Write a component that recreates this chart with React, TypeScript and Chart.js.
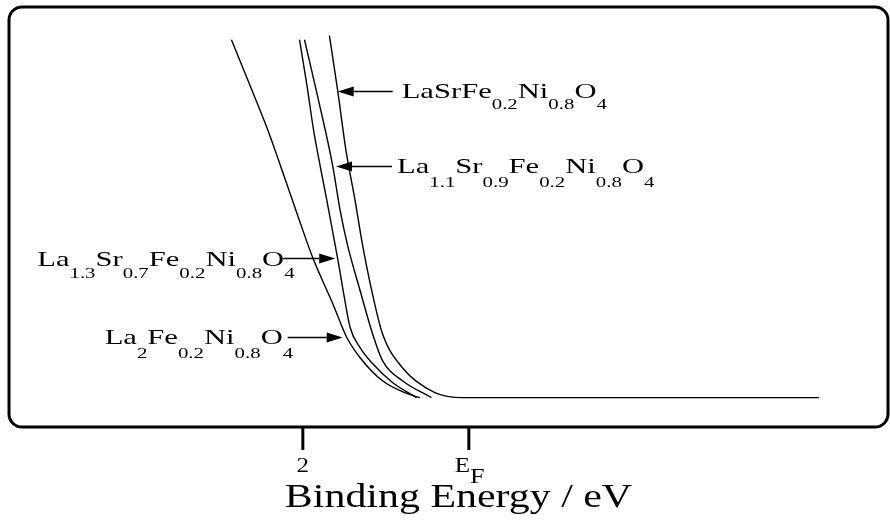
import { useEffect, useRef } from 'react';
import { Chart, registerables } from 'chart.js';

Chart.register(...registerables);

// ---- data (binding energy in eV relative to E_F, intensity in arbitrary units) ----
const NAME_LA2 = 'La_{2}Fe_{0.2}Ni_{0.8}O_{4}';
const NAME_LA13 = 'La_{1.3}Sr_{0.7}Fe_{0.2}Ni_{0.8}O_{4}';
const NAME_LA11 = 'La_{1.1}Sr_{0.9}Fe_{0.2}Ni_{0.8}O_{4}';
const NAME_LASR = 'LaSrFe_{0.2}Ni_{0.8}O_{4}';

const BE_LA2 = [2.86, 2.64, 2.42, 2.22, 2.04, 1.88, 1.64, 1.47, 1.31, 1.04, 0.75, 0.59];
const I_LA2 = [8.52, 7.45, 6.36, 5.24, 4.21, 3.33, 2.24, 1.43, 0.95, 0.4, 0.1, 0];

const BE_LA13 = [2.04, 1.95, 1.87, 1.78, 1.71, 1.58, 1.51, 1.43, 1.31, 1.16, 0.92, 0.63];
const I_LA13 = [8.52, 7.43, 6.36, 5.4, 4.69, 3.31, 2.5, 1.67, 1.19, 0.81, 0.36, 0];

const BE_LA11 = [1.98, 1.81, 1.64, 1.55, 1.46, 1.31, 1.16, 1.04, 0.8, 0.45];
const I_LA11 = [8.52, 7.07, 5.52, 4.45, 3.62, 2.55, 1.52, 0.88, 0.4, 0];

const BE_LASR = [1.68, 1.58, 1.48, 1.37, 1.29, 1.17, 1.04, 0.8, 0.41, 0.07, -4.22];
const I_LASR = [8.62, 7.31, 5.88, 4.69, 3.74, 2.55, 1.52, 0.71, 0.12, 0, 0];

// arrow tips on the curves (binding energy, intensity), order: La2, La1.3, La1.1, LaSr
const ARROW_BE = [1.52, 1.61, 1.6, 1.58];
const ARROW_I = [1.43, 3.31, 5.5, 7.29];

const X_TICK_VALUES = [2, 0];
const X_TICK_LABELS = ['2', 'E_{F}'];
const X_TITLE = 'Binding Energy / eV';

const FONT = '"Liberation Serif", "Times New Roman", serif';

function parseFormula(s: string) {
  const parts: { t: string; sub: boolean }[] = [];
  const re = /_\{([^}]*)\}|([^_]+)/g;
  let m: RegExpExecArray | null;
  while ((m = re.exec(s))) {
    if (m[1] !== undefined) parts.push({ t: m[1], sub: true });
    else parts.push({ t: m[2], sub: false });
  }
  return parts;
}

function formulaWidth(ctx: CanvasRenderingContext2D, s: string, size: number, subSize: number, sx: number) {
  let w = 0;
  for (const p of parseFormula(s)) {
    ctx.font = `${p.sub ? subSize : size}px ${FONT}`;
    w += ctx.measureText(p.t).width;
  }
  return w * sx;
}

function drawFormula(
  ctx: CanvasRenderingContext2D,
  s: string,
  x: number,
  y: number,
  size: number,
  subSize: number,
  drop: number,
  sx: number
) {
  ctx.save();
  ctx.translate(x, y);
  ctx.scale(sx, 1);
  ctx.fillStyle = '#000';
  ctx.textBaseline = 'alphabetic';
  ctx.textAlign = 'left';
  let cx = 0;
  for (const p of parseFormula(s)) {
    ctx.font = `${p.sub ? subSize : size}px ${FONT}`;
    ctx.fillText(p.t, cx, p.sub ? drop : 0);
    cx += ctx.measureText(p.t).width;
  }
  ctx.restore();
}

function arrow(ctx: CanvasRenderingContext2D, x0: number, y: number, x1: number) {
  const dir = Math.sign(x1 - x0);
  const head = 16;
  ctx.save();
  ctx.strokeStyle = '#000';
  ctx.fillStyle = '#000';
  ctx.lineWidth = 1.5;
  ctx.beginPath();
  ctx.moveTo(x0, y);
  ctx.lineTo(x1 - dir * head, y);
  ctx.stroke();
  ctx.beginPath();
  ctx.moveTo(x1, y);
  ctx.lineTo(x1 - dir * head, y - 5);
  ctx.lineTo(x1 - dir * head, y + 5);
  ctx.closePath();
  ctx.fill();
  ctx.restore();
}

const decorPlugin = {
  id: 'decor',
  afterDraw(chart: any) {
    const ctx: CanvasRenderingContext2D = chart.ctx;
    const { left, right, top, bottom } = chart.chartArea;
    const xs = chart.scales.x;
    const ys = chart.scales.y;

    // rounded frame
    ctx.save();
    ctx.strokeStyle = '#000';
    ctx.lineWidth = 3;
    const r = 13;
    ctx.beginPath();
    ctx.moveTo(left + r, top);
    ctx.lineTo(right - r, top);
    ctx.arcTo(right, top, right, top + r, r);
    ctx.lineTo(right, bottom - r);
    ctx.arcTo(right, bottom, right - r, bottom, r);
    ctx.lineTo(left + r, bottom);
    ctx.arcTo(left, bottom, left, bottom - r, r);
    ctx.lineTo(left, top + r);
    ctx.arcTo(left, top, left + r, top, r);
    ctx.closePath();
    ctx.stroke();

    // ticks below the frame
    ctx.lineWidth = 3;
    X_TICK_VALUES.forEach((v, i) => {
      const px = xs.getPixelForValue(v);
      ctx.beginPath();
      ctx.moveTo(px, bottom);
      ctx.lineTo(px, bottom + 23);
      ctx.stroke();
      const lbl = X_TICK_LABELS[i];
      if (lbl.includes('_')) {
        drawFormula(ctx, lbl, px - 14, bottom + 45, 20, 21, 11, 1.25);
      } else {
        const w = formulaWidth(ctx, lbl, 20, 20, 1.25);
        drawFormula(ctx, lbl, px - w / 2, bottom + 45, 20, 20, 0, 1.25);
      }
    });
    ctx.restore();

    // axis title
    const tsx = 1.27;
    const tw = formulaWidth(ctx, X_TITLE, 33, 33, tsx);
    drawFormula(ctx, X_TITLE, (left + right) / 2 + 10 - tw / 2, bottom + 80, 33, 33, 0, tsx);

    // labels with arrows
    const names = [NAME_LA2, NAME_LA13, NAME_LA11, NAME_LASR];
    const layout = [
      { dx: -238, dy: 6, tail: -55, drop: 14 },
      { dx: -298, dy: 7, tail: -52, drop: 12 },
      { dx: 61, dy: 6, tail: 56, drop: 14 },
      { dx: 64, dy: 7, tail: 55, drop: 11 },
    ];
    names.forEach((name, i) => {
      const tx = xs.getPixelForValue(ARROW_BE[i]);
      const ty = ys.getPixelForValue(ARROW_I[i]);
      const L = layout[i];
      drawFormula(ctx, name, tx + L.dx, ty + L.dy, 22, 15, L.drop, 1.39);
      arrow(ctx, tx + L.tail, ty, tx);
    });
  },
};

function mkSet(label: string, xs: number[], ys: number[]) {
  return {
    label,
    data: xs.map((x, i) => ({ x, y: ys[i] })),
    borderColor: '#000',
    borderWidth: 1.4,
    pointRadius: 0,
    cubicInterpolationMode: 'monotone',
    fill: false,
  };
}

export default function App() {
  const ref = useRef<HTMLCanvasElement | null>(null);
  useEffect(() => {
    if (!ref.current) return;
    const chart = new Chart(ref.current, {
      type: 'line',
      data: {
        datasets: [
          mkSet(NAME_LA2, BE_LA2, I_LA2),
          mkSet(NAME_LA13, BE_LA13, I_LA13),
          mkSet(NAME_LA11, BE_LA11, I_LA11),
          mkSet(NAME_LASR, BE_LASR, I_LASR),
        ] as any,
      },
      options: {
        animation: false,
        responsive: false,
        devicePixelRatio: 1,
        layout: { padding: { left: 9, right: 2, top: 7, bottom: 93 } },
        plugins: { legend: { display: false }, tooltip: { enabled: false } },
        scales: {
          x: { type: 'linear', reverse: true, min: -5.05, max: 5.54, display: false },
          y: { type: 'linear', min: -0.7, max: 9.3, display: false },
        },
      },
      plugins: [decorPlugin],
    });
    return () => chart.destroy();
  }, []);
  return (
    <div style={{ position: 'absolute', left: 0, top: 0, width: 890, height: 520, background: '#fff' }}>
      <canvas ref={ref} width={890} height={520} />
    </div>
  );
}
